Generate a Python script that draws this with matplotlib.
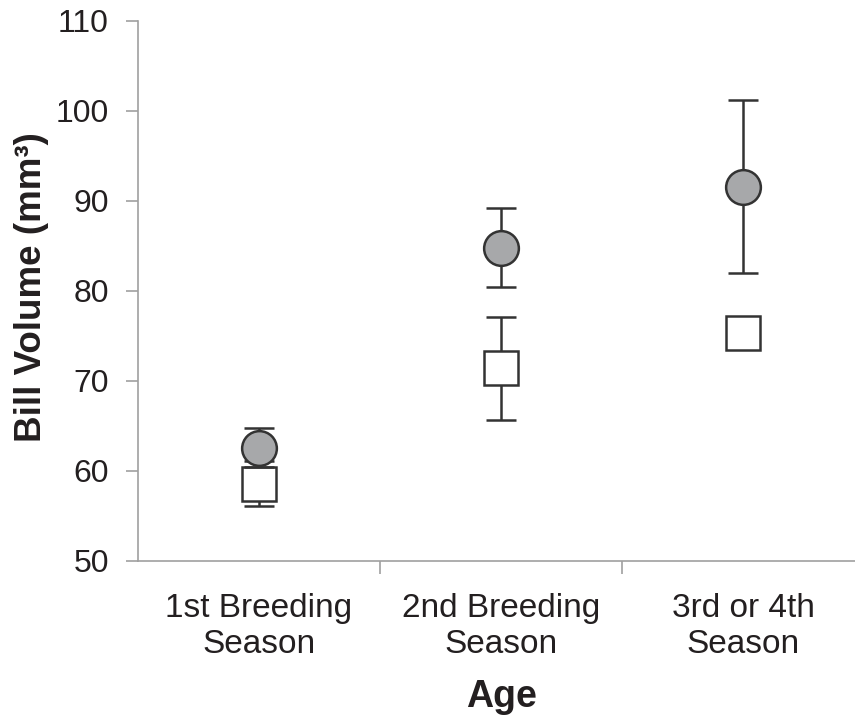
import matplotlib.pyplot as plt
import numpy as np

plt.rcParams['font.family'] = ['Liberation Sans', 'DejaVu Sans']

categories = ['1st Breeding\nSeason', '2nd Breeding\nSeason', '3rd or 4th\nSeason']
circle_mean = [62.6, 84.8, 91.6]
circle_err = [2.2, 4.4, 9.6]
square_mean = [58.6, 71.4, 75.3]
square_err = [2.5, 5.7, 1.2]

x = np.arange(len(categories))

fig = plt.figure(figsize=(8.55, 7.18), dpi=100)
# right edge runs slightly past the image, like the cropped original
ax = fig.add_axes([138 / 855, 1 - 561 / 718, 726 / 855, 540 / 718])

line_col = '#333333'
ax.errorbar(x, square_mean, yerr=square_err, fmt='s', ms=25, mfc='white',
            mec=line_col, mew=1.8, ecolor=line_col, elinewidth=1.8,
            capsize=11, capthick=1.8, zorder=3)
ax.errorbar(x, circle_mean, yerr=circle_err, fmt='o', ms=25, mfc='#a7a8aa',
            mec=line_col, mew=1.8, ecolor=line_col, elinewidth=1.8,
            capsize=11, capthick=1.8, zorder=4)

ax.set_xlim(-0.5, 2.5)
ax.set_ylim(50, 110)
ax.set_yticks(np.arange(50, 111, 10))

ax.set_xticks([0.5, 1.5])
ax.set_xticklabels([])
ax.set_xticks(x, minor=True)
ax.set_xticklabels(categories, minor=True, fontsize=24, color='#231f20',
                   linespacing=1.2)
ax.tick_params(axis='x', which='minor', length=0, pad=23)
ax.tick_params(axis='x', which='major', length=9, width=1.2, color='#a0a0a0',
               direction='out')
ax.tick_params(axis='y', length=9, width=1.2, color='#a0a0a0', pad=12,
               labelsize=23, labelcolor='#231f20')

for side in ['top', 'right']:
    ax.spines[side].set_visible(False)
for side in ['left', 'bottom']:
    ax.spines[side].set_color('#a0a0a0')
    ax.spines[side].set_linewidth(1.2)

ax.set_ylabel('Bill Volume (mm³)', fontsize=26.5, fontweight='bold',
              color='#231f20', va='center', ha='center')
ax.yaxis.set_label_coords(-0.147, 0.507)
ax.set_xlabel('Age', fontsize=27, fontweight='bold', color='#231f20',
              labelpad=14)

fig.savefig('out.png', dpi=100)
